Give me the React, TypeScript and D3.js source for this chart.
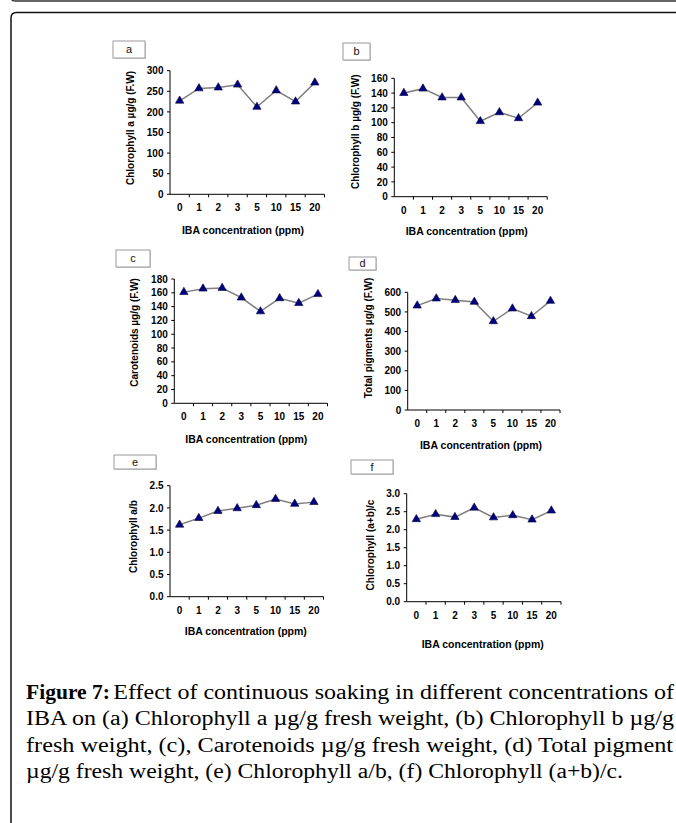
import React from "react";
import * as d3 from "d3";

// IBA concentration categories (ppm)
const concentrations = ["0", "1", "2", "3", "5", "10", "15", "20"];

// Pigment measurements per concentration
const chlorophyllA = [227, 257, 259, 266, 212, 252, 225, 271];
const chlorophyllB = [140, 146, 134, 134, 102, 114, 106, 127];
const carotenoids = [161, 166, 167, 153, 133, 152, 145, 158];
const totalPigments = [532, 568, 560, 551, 452, 517, 478, 556];
const ratioAB = [1.62, 1.77, 1.93, 1.99, 2.06, 2.2, 2.09, 2.13];
const ratioABC = [2.29, 2.43, 2.35, 2.61, 2.34, 2.4, 2.28, 2.53];

// Y tick values per panel
const ticksA = [0, 50, 100, 150, 200, 250, 300];
const ticksB = [0, 20, 40, 60, 80, 100, 120, 140, 160];
const ticksC = [0, 20, 40, 60, 80, 100, 120, 140, 160, 180];
const ticksD = [0, 100, 200, 300, 400, 500, 600];
const ticksE = [0, 0.5, 1.0, 1.5, 2.0, 2.5];
const ticksF = [0, 0.5, 1.0, 1.5, 2.0, 2.5, 3.0];

const panelLetters = ["a", "b", "c", "d", "e", "f"];
const yTitles = [
  "Chlorophyll a \u00b5g/g (F.W)",
  "Chlorophyll b \u00b5g/g (F.W)",
  "Carotenoids \u00b5g/g (F.W)",
  "Total pigments \u00b5g/g (F.W)",
  "Chlorophyll a/b",
  "Chlorophyll (a+b)/c",
];
const xTitle = "IBA concentration (ppm)";

const captionLines = [
  "IBA on (a) Chlorophyll a \u00b5g/g fresh weight, (b) Chlorophyll b \u00b5g/g",
  "fresh weight, (c), Carotenoids \u00b5g/g fresh weight, (d) Total pigment",
  "\u00b5g/g fresh weight, (e) Chlorophyll a/b, (f) Chlorophyll (a+b)/c.",
];

const seriesList = [chlorophyllA, chlorophyllB, carotenoids, totalPigments, ratioAB, ratioABC];
const tickList = [ticksA, ticksB, ticksC, ticksD, ticksE, ticksF];
const tickFormats = [d3.format("d"), d3.format("d"), d3.format("d"), d3.format("d"), d3.format(".1f"), d3.format(".1f")];

// Panel geometry: plot area, label box and title placement
type Layout = {
  x0: number; x1: number; yTop: number; yBot: number;
  box: [number, number, number, number];
  titleX: number; titleDy: number; yTitleX: number; yTitleY: number;
};
const layouts: Layout[] = [
  { x0: 170, x1: 324.5, yTop: 70.7, yBot: 194.3, box: [113, 41, 32, 17], titleX: 243, titleDy: 35.7, yTitleX: 130.7, yTitleY: 128 },
  { x0: 394.3, x1: 547.2, yTop: 78.3, yBot: 196.7, box: [343, 43, 27, 17], titleX: 466.7, titleDy: 35, yTitleX: 355, yTitleY: 131.7 },
  { x0: 174.3, x1: 327.5, yTop: 279, yBot: 403.3, box: [116, 250, 34, 17], titleX: 246.3, titleDy: 35.7, yTitleX: 134.3, yTitleY: 332.5 },
  { x0: 407.7, x1: 560, yTop: 292.3, yBot: 410, box: [349, 257, 27, 13], titleX: 481, titleDy: 35, yTitleX: 368.3, yTitleY: 338 },
  { x0: 170, x1: 323.5, yTop: 485.7, yBot: 596.7, box: [114, 455, 42, 14], titleX: 245.8, titleDy: 34.3, yTitleX: 133.3, yTitleY: 536.6 },
  { x0: 406.7, x1: 561, yTop: 493.7, yBot: 601.7, box: [351, 460, 42, 14], titleX: 482.7, titleDy: 42.3, yTitleX: 370, yTitleY: 545 },
];

const SANS = "'Liberation Sans', Arial, sans-serif";
const SERIF = "'Liberation Serif', 'Times New Roman', serif";

function Panel({ idx }: { idx: number }) {
  const L = layouts[idx];
  const values = seriesList[idx];
  const ticks = tickList[idx];
  const fmt = tickFormats[idx];
  const x = d3.scaleBand<string>().domain(concentrations).range([L.x0, L.x1]).paddingInner(0).paddingOuter(0);
  const y = d3.scaleLinear().domain([0, ticks[ticks.length - 1]]).range([L.yBot, L.yTop]);
  const pts: [number, number][] = values.map((v, i) => [x(concentrations[i])! + x.bandwidth() / 2, y(v)]);
  const line = d3.line()(pts) || "";
  const tri = d3.symbol().type(d3.symbolTriangle).size(30)() || "";
  const [bx, by, bw, bh] = L.box;

  return (
    <g>
      {/* panel letter box */}
      <rect x={bx + 1} y={by + 1} width={bw} height={bh} fill="#d0d0d0" />
      <rect x={bx} y={by} width={bw} height={bh} fill="#fff" stroke="#9a9a9a" strokeWidth={1} />
      <text x={bx + bw / 2} y={by + bh / 2} dy="0.35em" textAnchor="middle" fontFamily={SANS} fontSize={11} fill="#111">
        {panelLetters[idx]}
      </text>

      {/* axes */}
      <line x1={L.x0} x2={L.x0} y1={L.yTop} y2={L.yBot} stroke="#000" strokeWidth={1} />
      <line x1={L.x0} x2={L.x1} y1={L.yBot} y2={L.yBot} stroke="#000" strokeWidth={1} />
      {ticks.map((t) => (
        <g key={"yt" + t}>
          <line x1={L.x0 - 3} x2={L.x0} y1={y(t)} y2={y(t)} stroke="#000" strokeWidth={1} />
          <text x={L.x0 - 6.5} y={y(t)} dy="0.36em" textAnchor="end" fontFamily={SANS} fontWeight="bold" fontSize={10} fill="#000">
            {fmt(t)}
          </text>
        </g>
      ))}
      {concentrations.map((c, i) => (
        <g key={"xt" + c}>
          <line x1={x(c)! + x.bandwidth()} x2={x(c)! + x.bandwidth()} y1={L.yBot} y2={L.yBot + 3} stroke="#000" strokeWidth={1} />
          <text x={x(c)! + x.bandwidth() / 2} y={L.yBot + 13.4} dy="0.36em" textAnchor="middle" fontFamily={SANS} fontWeight="bold" fontSize={10} fill="#000">
            {c}
          </text>
        </g>
      ))}

      {/* axis titles */}
      <text x={L.titleX} y={L.yBot + L.titleDy} dy="0.36em" textAnchor="middle" fontFamily={SANS} fontWeight="bold" fontSize={10.5} fill="#000">
        {xTitle}
      </text>
      <text
        transform={`translate(${L.yTitleX},${L.yTitleY}) rotate(-90)`}
        dy="0.36em"
        textAnchor="middle"
        fontFamily={SANS}
        fontWeight="bold"
        fontSize={10}
        fill="#000"
      >
        {yTitles[idx]}
      </text>

      {/* series */}
      <path d={line} fill="none" stroke="#7f7f7f" strokeWidth={1.5} />
      {pts.map(([px, py], i) => (
        <path key={"m" + i} d={tri} transform={`translate(${px},${py})`} fill="#000080" stroke="#00003a" strokeWidth={0.6} />
      ))}
    </g>
  );
}

export default function App() {
  return (
    <div style={{ position: "absolute", left: 0, top: 0 }}>
      <svg width={676} height={823} style={{ display: "block", background: "#fff" }}>
        {/* frames */}
        <path d="M 11 -6 L 11 -3 Q 11 1 15 1 L 680 1" fill="none" stroke="#333" strokeWidth={1.5} />
        <path d="M 11 830 L 11 18 Q 11 12.6 16.5 12.6 L 680 12.6" fill="none" stroke="#111" strokeWidth={1.5} />

        {layouts.map((_, i) => (
          <Panel key={i} idx={i} />
        ))}

        {/* caption */}
        <text x={26} y={699} fontFamily={SERIF} fontWeight="bold" fontSize={20.5} fill="#000" textLength={84} lengthAdjust="spacingAndGlyphs">
          Figure 7:
        </text>
        <text x={113.3} y={699} fontFamily={SERIF} fontSize={20.5} fill="#000" textLength={560.7} lengthAdjust="spacingAndGlyphs">
          Effect of continuous soaking in different concentrations of
        </text>
        {captionLines.map((ln, i) => (
          <text
            key={i}
            x={26}
            y={725.4 + i * 26.45}
            fontFamily={SERIF}
            fontSize={20.5}
            fill="#000"
            textLength={[648, 647, 597][i]}
            lengthAdjust="spacingAndGlyphs"
          >
            {ln}
          </text>
        ))}
      </svg>
    </div>
  );
}
